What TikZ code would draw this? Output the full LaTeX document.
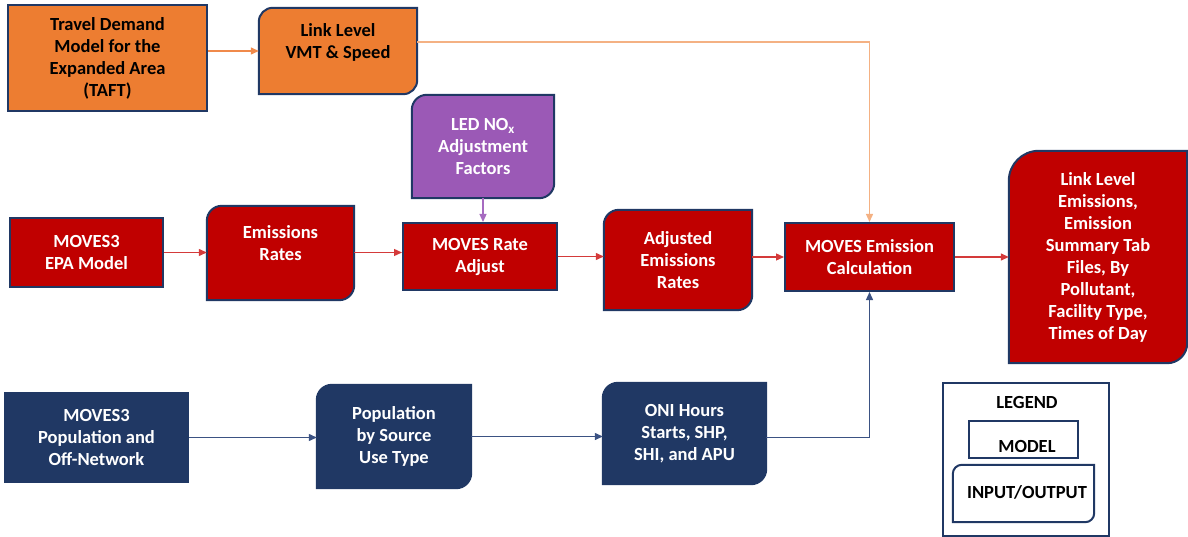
\documentclass[tikz,border=0pt]{standalone}
\usepackage{fontspec}
\setmainfont{Carlito}
\usetikzlibrary{arrows.meta,backgrounds}
\definecolor{cOr}{HTML}{ED7D31}
\definecolor{cRd}{HTML}{C00000}
\definecolor{cNv}{HTML}{203864}
\definecolor{cPu}{HTML}{9B59B6}
\definecolor{aOr}{HTML}{F08A4B}
\definecolor{aOrL}{HTML}{F4B183}
\definecolor{aRd}{HTML}{D43A3A}
\definecolor{aPu}{HTML}{A66BC0}
\definecolor{aNv}{HTML}{3B5283}
\newcommand\ioshape[4]{\path[#4] (#1.south west) -- ([yshift=-#2]#1.north west) arc[start angle=180,end angle=90,radius=#2] -- (#1.north east) -- ([yshift=#3]#1.south east) arc[start angle=0,end angle=-90,radius=#3] -- cycle;}
\begin{document}
\begin{tikzpicture}[x=1pt,y=1pt,
  base/.style={inner sep=0pt, align=center, font=\fontsize{18.5}{22}\selectfont\bfseries},
  model/.style={base, rectangle, draw=cNv, line width=2pt},
  io/.style={base, rectangle},
  shp/.style={draw=cNv, line width=2pt},
  conn/.style={line width=1.3pt, -{Triangle[length=8pt,width=7pt]}},
]
\useasboundingbox (0,0) rectangle (1188,-537);

% top row
\node[model, fill=cOr, text=black, minimum width=199pt, minimum height=106pt] (taft) at (107.5,-58) {Travel Demand\\Model for the\\Expanded Area\\(TAFT)};
\node[io, minimum width=158pt, minimum height=86pt] (vmt) at (338,-51) {};
\node[base, text=black] (vmtt) at (338,-42) {Link Level\\VMT \& Speed};
\node[io, text=white, minimum width=142pt, minimum height=103pt] (nox) at (483,-146.5) {LED NO\textsubscript{x}\\Adjustment\\Factors};

% middle row
\node[model, fill=cRd, text=white, minimum width=153pt, minimum height=69pt] (epa) at (86.5,-252.5) {MOVES3\\EPA Model};
\node[io, minimum width=147pt, minimum height=94pt] (er) at (280.5,-253) {};
\node[base, text=white] (ert) at (280.5,-243) {Emissions\\Rates};
\node[model, fill=cRd, text=white, minimum width=154pt, minimum height=67pt] (rate) at (480,-256.5) {MOVES Rate\\Adjust};
\node[io, text=white, minimum width=148pt, minimum height=100pt] (adjd) at (678,-260) {Adjusted\\Emissions\\Rates};
\node[model, fill=cRd, text=white, minimum width=169pt, minimum height=68pt] (calc) at (869.5,-257) {MOVES Emission\\Calculation};
\node[io, text=white, minimum width=178pt, minimum height=212pt] (out) at (1098,-257) {Link Level\\Emissions,\\Emission\\Summary Tab\\Files, By\\Pollutant,\\Facility Type,\\Times of Day};

% bottom row
\node[model, fill=cNv, text=white, minimum width=183pt, minimum height=89pt] (popm) at (96.5,-437.5) {MOVES3\\Population and\\Off-Network};
\node[io, text=white, minimum width=154pt, minimum height=103pt] (pops) at (394,-436.5) {Population\\by Source\\Use Type};
\node[io, text=white, minimum width=163pt, minimum height=101pt] (oni) at (684.5,-433.5) {ONI Hours\\Starts, SHP,\\SHI, and APU};

% legend
\node[rectangle, draw=cNv, line width=2pt, fill=white, minimum width=166pt, minimum height=153pt] (legend) at (1026,-459.5) {};
\node[base, text=black] (legt) at (1027,-402) {LEGEND};
\node[model, fill=white, minimum width=109pt, minimum height=37pt] (legm) at (1023.5,-439.5) {};
\node[base, text=black] (legmt) at (1027,-446) {MODEL};
\node[io, minimum width=141pt, minimum height=57pt] (legio) at (1023.5,-493.5) {};

\begin{scope}[on background layer]
  \ioshape{vmt}{14pt}{14pt}{shp, fill=cOr}
  \ioshape{nox}{15pt}{15pt}{shp, fill=cPu}
  \ioshape{er}{15pt}{15pt}{shp, fill=cRd}
  \ioshape{adjd}{15pt}{15pt}{shp, fill=cRd}
  \ioshape{out}{30pt}{20pt}{shp, fill=cRd}
  \ioshape{pops}{15pt}{15pt}{shp, fill=cNv}
  \ioshape{oni}{15pt}{15pt}{shp, fill=cNv}
\end{scope}
\ioshape{legio}{9pt}{9pt}{shp, fill=white}
\node[base, text=black] (legiot) at (1027,-492) {INPUT/OUTPUT};

% connectors
\draw[conn, aOr] (taft.east |- vmt.west) -- (vmt.west);
\draw[conn, aOrL] ([yshift=9pt]vmt.east) -| (calc.north);
\draw[conn, aRd] (epa.east) -- (er.west |- epa.east);
\draw[conn, aRd] (er.east |- epa.east) -- (rate.west |- epa.east);
\draw[conn, aPu] (nox.south) -- (nox.south |- rate.north);
\draw[conn, aRd] (rate.east) -- (adjd.west |- rate.east);
\draw[conn, aRd] (adjd.east |- calc.west) -- (calc.west);
\draw[conn, aRd] (calc.east) -- (out.west |- calc.east);
\draw[conn, aNv] (popm.east) -- (pops.west |- popm.east);
\draw[conn, aNv] (pops.east) -- (oni.west |- pops.east);
\draw[conn, aNv] ([yshift=-4pt]oni.east) -| (calc.south);
\end{tikzpicture}
\end{document}
